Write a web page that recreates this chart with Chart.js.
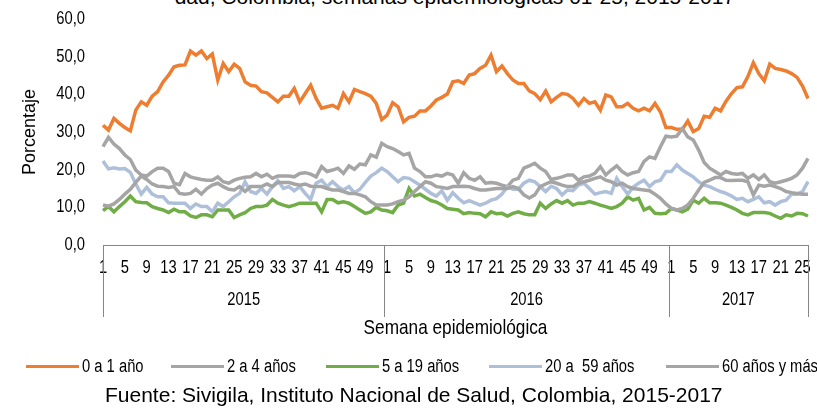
<!DOCTYPE html>
<html>
<head>
<meta charset="utf-8">
<title>Semana epidemiológica</title>
<script src="https://cdn.jsdelivr.net/npm/chart.js@4.4.1/dist/chart.umd.min.js"></script>
<style>
  body { margin: 0; background: #fff; font-family: "Liberation Sans", Arial, sans-serif; }
  #wrap { position: relative; width: 817px; height: 409px; overflow: hidden; }
  #chart { position: absolute; left: 0; top: 0; }
  .title { position: absolute; right: 82px; top: -14px; font-size: 21px; line-height: 1; white-space: nowrap; color: #000; }
  .source { position: absolute; left: 105px; top: 384px; font-size: 21px; line-height: 1; white-space: nowrap; color: #000; }
  .legend-item { position: absolute; top: 356px; height: 20px; font-size: 18px; line-height: 20px; white-space: nowrap; color: #000; }
  .legend-item i { position: absolute; top: 9px; height: 3px; }
  .legend-item span { position: absolute; top: 0; white-space: pre; transform: scaleX(0.82); transform-origin: 0 0; }
</style>
</head>
<body>
<div id="wrap">
  <div class="title">dad, Colombia, semanas epidemiológicas 01-25, 2015-2017</div>
  <canvas id="chart" width="817" height="409"></canvas>
  <div id="legend"></div>
  <div class="source">Fuente: Sivigila, Instituto Nacional de Salud, Colombia, 2015-2017</div>
</div>
<script>
const years = ['2015', '2016', '2017'];
const weeksPerYear = [52, 52, 26];

// % por grupo de edad, semana a semana (2015: 52, 2016: 52, 2017: 26)
const age0to1 = [
  31.8, 30.5, 33.6, 32.3, 31.2, 30.3, 35.8, 38.0, 37.1, 39.5, 40.7, 43.3, 45.1, 47.3, 47.7, 47.8, 51.5, 50.4, 51.5, 49.5, 50.7, 43.8, 48.2, 46.0, 48.0, 46.9,
  43.3, 42.4, 42.2, 40.7, 40.4, 39.2, 38.0, 39.5, 39.5, 41.6, 38.0, 40.2, 42.4, 38.9, 36.3, 36.7, 37.1, 36.3, 40.2, 38.0, 41.3, 40.7, 40.2, 39.5, 37.6, 33.3,
  34.5, 37.8, 36.7, 32.7, 33.9, 34.2, 35.6, 35.6, 36.9, 38.5, 39.2, 40.1, 43.3, 43.6, 42.9, 45.1, 45.5, 46.9, 47.7, 50.4, 46.0, 47.5, 45.5, 43.8, 42.9, 42.9,
  40.9, 40.2, 38.6, 40.9, 38.0, 39.2, 40.2, 40.0, 38.9, 37.1, 38.9, 37.6, 38.0, 35.8, 39.8, 39.3, 36.7, 36.7, 37.6, 36.3, 35.6, 36.3, 35.6, 37.6, 35.3, 31.2,
  31.2, 30.7, 30.7, 32.9, 30.1, 30.9, 34.2, 33.9, 36.3, 35.6, 38.2, 40.2, 41.8, 42.0, 44.7, 48.4, 45.5, 43.6, 48.0, 46.9, 46.6, 46.2, 45.5, 44.5, 42.2, 38.9
];
const age2to4 = [
  26.1, 28.6, 26.8, 25.6, 23.9, 22.7, 19.9, 18.6, 18.3, 19.5, 20.4, 20.4, 19.5, 16.4, 16.0, 19.0, 18.1, 17.7, 17.4, 17.2, 17.2, 18.1, 16.8, 16.4, 17.2, 17.7,
  18.0, 18.1, 19.0, 18.1, 18.8, 17.7, 18.3, 18.3, 18.3, 18.1, 19.0, 19.2, 18.8, 18.1, 20.8, 19.5, 19.9, 20.4, 19.0, 21.0, 20.1, 21.5, 21.3, 23.9, 23.3, 27.0,
  26.1, 25.6, 24.8, 23.9, 24.3, 20.4, 19.5, 18.1, 18.1, 18.6, 18.3, 19.0, 18.6, 16.4, 19.2, 17.7, 17.2, 18.1, 16.4, 16.6, 16.4, 15.9, 15.5, 17.2, 17.7, 20.4,
  21.0, 21.7, 20.4, 19.5, 17.4, 17.7, 18.1, 18.6, 18.6, 17.2, 18.1, 18.3, 19.0, 20.8, 18.6, 19.9, 21.0, 19.5, 18.6, 19.2, 19.5, 22.2, 23.4, 23.0, 26.1, 28.9,
  28.7, 28.9, 30.9, 28.7, 27.9, 25.2, 21.9, 20.4, 19.5, 18.6, 19.5, 19.0, 18.8, 19.0, 17.7, 18.6, 17.4, 18.6, 16.8, 16.4, 16.8, 17.2, 17.7, 18.6, 20.4, 23.0
];
const age5to19 = [
  9.1, 10.2, 8.8, 10.2, 11.5, 13.0, 11.5, 11.3, 11.2, 10.2, 9.7, 9.3, 8.6, 9.5, 8.8, 8.8, 7.7, 7.3, 8.0, 8.0, 7.5, 9.3, 9.3, 9.3, 7.3, 8.0,
  8.6, 9.7, 10.2, 10.2, 10.6, 12.1, 11.1, 10.6, 10.2, 10.6, 11.1, 11.1, 11.1, 11.1, 8.8, 12.1, 12.1, 11.2, 11.5, 11.1, 10.2, 9.3, 8.4, 8.8, 10.0, 9.3,
  9.1, 8.6, 10.6, 11.1, 15.0, 13.0, 13.5, 12.6, 11.8, 11.4, 10.6, 9.7, 9.5, 9.3, 8.3, 8.6, 8.4, 8.3, 7.5, 8.8, 8.3, 8.4, 7.7, 8.4, 8.8, 8.3,
  8.0, 8.0, 11.1, 9.7, 10.9, 11.8, 11.1, 11.8, 10.6, 11.1, 11.1, 11.5, 11.1, 10.6, 10.2, 9.7, 10.2, 11.1, 12.8, 11.9, 12.4, 9.3, 10.0, 8.4, 8.3, 8.4,
  9.7, 9.3, 8.8, 9.5, 11.9, 11.1, 12.4, 11.2, 11.2, 11.1, 10.6, 10.0, 9.3, 8.4, 8.0, 8.6, 8.6, 8.6, 8.4, 7.7, 7.1, 8.0, 7.7, 8.4, 8.3, 7.7
];
const age20to59 = [
  22.3, 20.2, 20.5, 20.2, 20.3, 19.3, 16.2, 13.5, 15.3, 13.5, 12.8, 12.8, 11.2, 11.1, 11.1, 11.1, 9.7, 10.9, 10.2, 10.2, 8.8, 11.1, 10.2, 11.5, 12.8, 13.7,
  16.8, 14.2, 13.7, 15.0, 13.5, 15.5, 17.1, 15.0, 15.5, 14.4, 15.5, 13.7, 12.1, 16.4, 17.2, 15.5, 16.8, 15.5, 14.6, 15.5, 13.9, 14.8, 16.6, 18.3, 19.2, 20.4,
  19.5, 18.1, 16.8, 17.9, 17.7, 16.8, 15.9, 14.8, 13.7, 13.0, 14.4, 11.9, 13.9, 12.4, 11.2, 11.8, 11.2, 10.6, 11.1, 11.9, 12.3, 13.5, 15.5, 14.8, 14.8, 16.4,
  17.2, 16.8, 15.5, 14.2, 15.6, 15.0, 13.3, 14.6, 14.4, 15.9, 16.4, 15.0, 13.5, 13.9, 14.2, 13.7, 17.7, 15.5, 13.5, 15.3, 16.4, 17.2, 15.5, 16.8, 17.2, 19.5,
  19.5, 21.3, 19.9, 19.0, 18.1, 16.8, 15.9, 15.5, 14.8, 14.2, 13.7, 13.0, 12.1, 12.4, 11.5, 12.1, 12.8, 11.2, 11.5, 10.6, 11.5, 11.9, 13.5, 13.5, 14.2, 16.8
];
const age60plus = [
  10.6, 10.3, 10.9, 12.1, 13.5, 14.8, 16.6, 18.3, 17.4, 16.2, 15.6, 15.5, 15.3, 15.5, 13.7, 13.5, 13.7, 14.8, 13.5, 15.0, 15.9, 16.4, 15.5, 14.8, 14.6, 15.5,
  14.2, 15.5, 15.5, 15.5, 16.2, 15.5, 16.6, 16.6, 16.6, 16.2, 15.9, 16.2, 15.6, 15.5, 15.5, 15.0, 14.6, 14.6, 14.2, 13.7, 13.7, 13.3, 12.8, 11.5, 10.6, 10.6,
  10.6, 10.9, 11.5, 11.9, 12.8, 14.2, 15.5, 16.8, 16.4, 15.5, 15.3, 15.0, 15.5, 15.5, 15.6, 15.5, 15.0, 14.6, 14.6, 14.8, 15.0, 15.0, 15.0, 15.5, 15.0, 13.3,
  12.5, 13.3, 15.5, 16.2, 16.8, 16.4, 15.9, 15.5, 15.5, 16.4, 16.8, 17.2, 17.7, 18.1, 17.2, 16.8, 15.9, 16.4, 15.5, 15.0, 14.8, 14.6, 14.4, 13.5, 12.4, 10.9,
  9.7, 9.3, 9.7, 10.6, 12.4, 14.6, 16.6, 17.2, 17.9, 17.9, 17.2, 17.1, 17.2, 17.2, 16.8, 13.3, 15.9, 15.6, 15.9, 15.5, 15.0, 14.2, 13.9, 13.7, 13.5, 13.5
];

const yTicks = [0, 10, 20, 30, 40, 50, 60];

const series = [
  {label: '0 a 1 año', data: age0to1, color: '#ED7D31', legendX: 26},
  {label: '2 a 4 años', data: age2to4, color: '#A5A5A5', legendX: 171},
  {label: '5 a 19 años', data: age5to19, color: '#70AD47', legendX: 326},
  {label: '20 a  59 años', data: age20to59, color: '#AEBFD9', legendX: 489},
  {label: '60 años y más', data: age60plus, color: '#A5A5A5', legendX: 666}
];

// week numbers repeated per year
const weeks = [];
weeksPerYear.forEach(n => { for (let w = 1; w <= n; w++) weeks.push(String(w)); });

// legend as html, fixed spots like the original
const legendBox = document.getElementById('legend');
series.forEach(s => {
  const div = document.createElement('div');
  div.className = 'legend-item';
  div.style.left = s.legendX + 'px';
  div.innerHTML = '<i style="left:0;width:53px;background:' + s.color + '"></i>' +
    '<span style="left:56px">' + s.label + '</span>';
  legendBox.appendChild(div);
});

const axisGray = '#868686';
const fontFamily = '"Liberation Sans", Arial, sans-serif';
const squeeze = 0.82; // the original text is condensed

function narrowText(ctx, text, x, y, size, align) {
  ctx.save();
  ctx.translate(x, y);
  ctx.scale(squeeze, 1);
  ctx.font = size + 'px ' + fontFamily;
  ctx.textAlign = align;
  ctx.textBaseline = 'middle';
  ctx.fillText(text, 0, 0);
  ctx.restore();
}

const axisText = {
  id: 'axisText',
  afterDraw(chart) {
    const ctx = chart.ctx;
    const x = chart.scales.x;
    const y = chart.scales.y;
    const area = chart.chartArea;

    ctx.save();
    ctx.fillStyle = '#000';

    yTicks.forEach(v => {
      narrowText(ctx, v.toFixed(1).replace('.', ','), area.left - 18, y.getPixelForValue(v), 18, 'right');
    });
    weeks.forEach((w, i) => {
      if ((Number(w) - 1) % 4 === 0) narrowText(ctx, w, x.getPixelForValue(i), area.bottom + 23, 18, 'center');
    });

    const bounds = [area.left];
    let k = 0;
    weeksPerYear.forEach((n, i) => {
      k += n;
      if (i === weeksPerYear.length - 1) bounds.push(area.right);
      else bounds.push((x.getPixelForValue(k - 1) + x.getPixelForValue(k)) / 2);
    });

    ctx.strokeStyle = axisGray;
    ctx.lineWidth = 1;
    bounds.forEach(b => {
      const px = Math.round(b) + 0.5;
      ctx.beginPath();
      ctx.moveTo(px, area.bottom);
      ctx.lineTo(px, area.bottom + 72);
      ctx.stroke();
    });

    years.forEach((yr, i) => {
      narrowText(ctx, yr, (bounds[i] + bounds[i + 1]) / 2, area.bottom + 55, 18, 'center');
    });

    narrowText(ctx, 'Semana epidemiológica', (area.left + area.right) / 2, area.bottom + 83, 21, 'center');

    ctx.translate(30, (area.top + area.bottom) / 2);
    ctx.rotate(-Math.PI / 2);
    ctx.font = '18px ' + fontFamily;
    ctx.textAlign = 'center';
    ctx.textBaseline = 'middle';
    ctx.fillText('Porcentaje', 0, 0);
    ctx.restore();
  }
};

new Chart(document.getElementById('chart'), {
  type: 'line',
  data: {
    labels: weeks,
    datasets: series.map((s, i) => ({
      label: s.label,
      data: s.data,
      borderColor: s.color,
      backgroundColor: s.color,
      borderWidth: 3.5,
      pointRadius: 0,
      tension: 0,
      order: series.length - i
    }))
  },
  options: {
    responsive: false,
    animation: false,
    layout: {padding: {left: 0, right: 9, top: 19, bottom: 0}},
    plugins: {
      legend: {display: false},
      tooltip: {enabled: false}
    },
    scales: {
      x: {
        grid: {display: false, drawTicks: false},
        border: {display: true, color: axisGray, width: 1},
        ticks: {display: false, autoSkip: false},
        afterFit(scale) { scale.height = 164; }
      },
      y: {
        min: 0,
        max: 60,
        grid: {display: false, drawTicks: false},
        border: {display: false},
        ticks: {display: false, stepSize: 10},
        afterFit(scale) { scale.width = 103; }
      }
    }
  },
  plugins: [axisText]
});
</script>
</body>
</html>
